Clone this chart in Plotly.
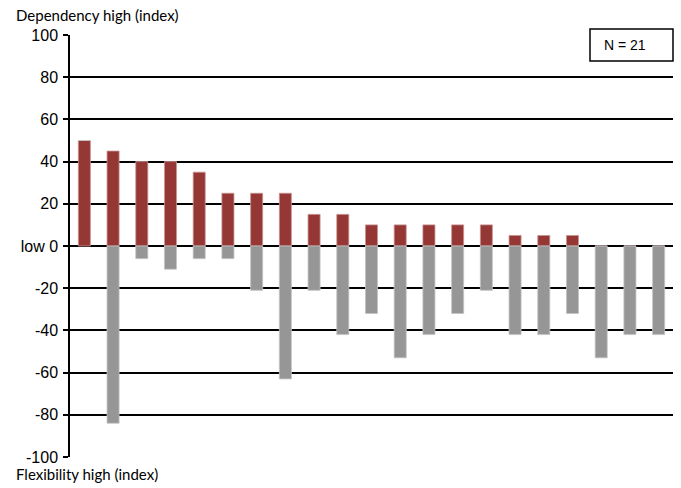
import plotly.graph_objects as go

# Respondents (1..21), sorted by dependency index
respondents = list(range(1, 22))
dependency = [50, 45, 40, 40, 35, 25, 25, 25, 15, 15, 10, 10, 10, 10, 10, 5, 5, 5, 0, 0, 0]
flexibility = [0, -84, -6, -11, -6, -6, -21, -63, -21, -42, -32, -53, -42, -32, -21, -42, -42, -32, -53, -42, -42]

y_ticks = [100, 80, 60, 40, 20, 0, -20, -40, -60, -80, -100]
y_labels = ["100", "80", "60", "40", "20", "low 0", "-20", "-40", "-60", "-80", "-100"]

RED = "#953735"
GREY = "#969696"

fig = go.Figure()
fig.add_trace(go.Bar(
    x=respondents, y=dependency, width=0.42,
    marker=dict(color=RED, line=dict(color="#c89594", width=0.8)),
    name="Dependency",
))
fig.add_trace(go.Bar(
    x=respondents, y=flexibility, width=0.42,
    marker=dict(color=GREY, line=dict(color="#c4c4c4", width=0.8)),
    name="Flexibility",
))

fig.update_layout(
    width=681, height=488,
    margin=dict(l=70, r=8, t=35, b=31),
    paper_bgcolor="white", plot_bgcolor="white",
    barmode="relative",
    showlegend=False,
    font=dict(family="Liberation Sans, Arial, sans-serif", size=14, color="black"),
)

fig.update_xaxes(
    range=[0.5, 21.5], showticklabels=False, showgrid=False,
    zeroline=False, showline=False, ticks="",
)
fig.update_yaxes(
    range=[-100, 100], tickvals=y_ticks, ticktext=y_labels,
    showgrid=True, gridcolor="black", gridwidth=1.5,
    zeroline=True, zerolinecolor="black", zerolinewidth=1.5,
    showline=True, linecolor="black", linewidth=1.5,
    ticks="outside", ticklen=5, tickcolor="black", tickwidth=1.5,
    tickfont=dict(size=16), ticklabelstandoff=2,
)

# Axis end labels
fig.add_annotation(
    text="Dependency high (index)", xref="paper", yref="paper",
    x=-70 / 603, y=1 + 35 / 422, xanchor="left", yanchor="top", yshift=-4, xshift=14,
    showarrow=False, font=dict(family="Lato, Open Sans, sans-serif", size=15),
)
fig.add_annotation(
    text="Flexibility high (index)", xref="paper", yref="paper",
    x=-70 / 603, y=-31 / 422, xanchor="left", yanchor="bottom", yshift=3, xshift=14,
    showarrow=False, font=dict(family="Lato, Open Sans, sans-serif", size=15),
)

# Sample size box
fig.add_shape(
    type="rect", xref="paper", yref="paper",
    x0=(590 - 70) / 603, x1=1.0, y0=(457 - 61) / 422, y1=(457 - 29) / 422,
    fillcolor="white", line=dict(color="black", width=1.5), layer="above",
)
fig.add_annotation(
    text="N = 21", xref="paper", yref="paper",
    x=(602 - 70) / 603, y=(457 - 45) / 422, xanchor="left", yanchor="middle",
    showarrow=False, font=dict(size=14),
)

fig.write_html("out.html")
